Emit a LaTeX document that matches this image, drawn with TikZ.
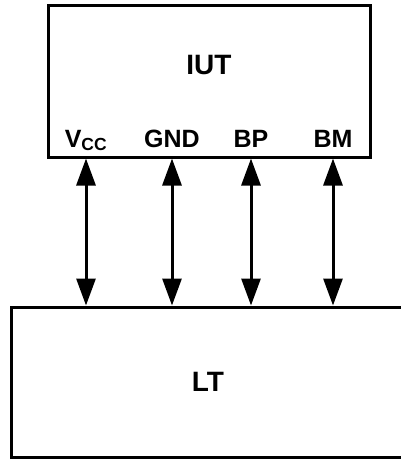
\documentclass[tikz,border=0pt]{standalone}
\usepackage{fontspec}
\setmainfont{Liberation Sans}
\usetikzlibrary{arrows.meta, positioning}

\begin{document}
\begin{tikzpicture}[
    x=1pt, y=-1pt,
    unitbox/.style={
        rectangle,
        draw=black,
        line width=3pt,
        inner sep=0pt
    },
    title/.style={font=\fontsize{28}{32}\selectfont\bfseries},
    pin/.style={font=\fontsize{25}{28}\selectfont\bfseries, anchor=base},
    arrow/.style={line width=3pt, {Triangle[length=27pt, width=19pt]}-{Triangle[length=27pt, width=19pt]}}
]
\useasboundingbox (0,0) rectangle (400,459);

\node[unitbox, minimum width=322pt, minimum height=152pt] (iut) at (209,81) {};
\node[title] (iuttitle) at (209,65) {IUT};

\node[pin] (vcc) at (86,147) {V\textsubscript{CC}};
\node[pin] (gnd) at (172,147) {GND};
\node[pin] (bp) at (251,147) {BP};
\node[pin] (bm) at (333,147) {BM};

\node[unitbox, title, minimum width=394pt, minimum height=150pt] (lt) at (208,382) {LT};

\draw[arrow] (iut.south -| vcc) -- (lt.north -| vcc);
\draw[arrow] (iut.south -| gnd) -- (lt.north -| gnd);
\draw[arrow] (iut.south -| bp) -- (lt.north -| bp);
\draw[arrow] (iut.south -| bm) -- (lt.north -| bm);

\end{tikzpicture}
\end{document}
